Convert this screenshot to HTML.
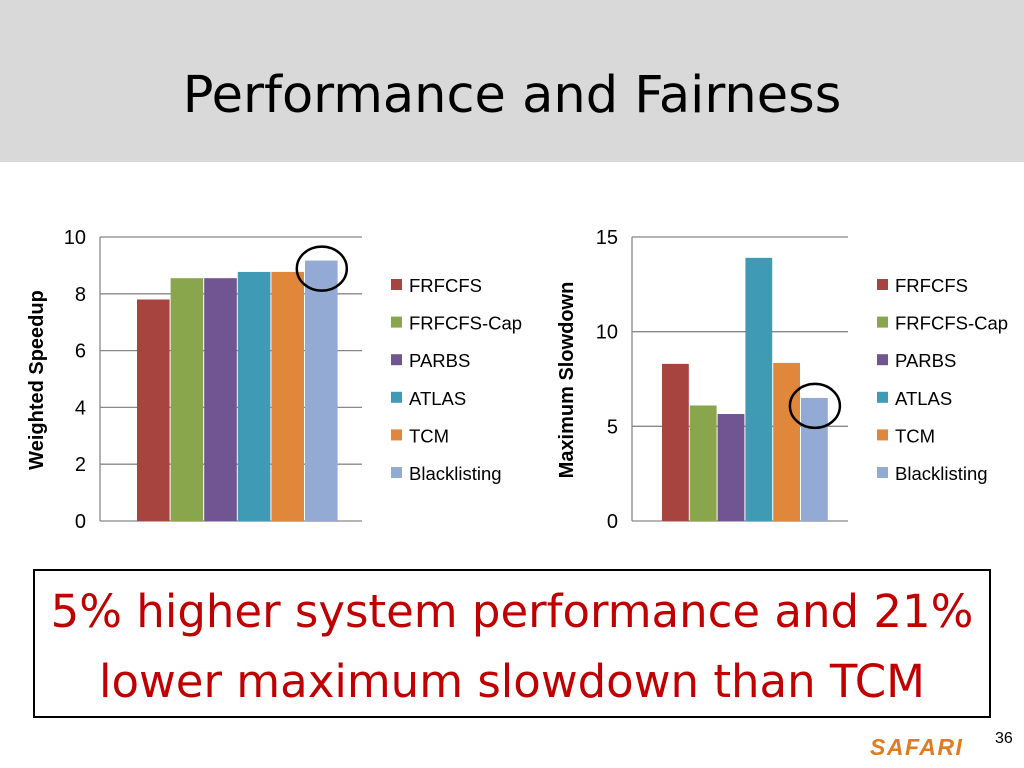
<!DOCTYPE html>
<html><head><meta charset="utf-8"><style>
body{margin:0;width:1024px;height:768px;background:#fff;overflow:hidden;font-family:"Liberation Sans",sans-serif;position:relative}
#hdr{position:absolute;left:0;top:0;width:1024px;height:162px;background:#d9d9d9}
#title{position:absolute;left:0;top:66px;width:1024px;text-align:center;font-size:51px;color:#000;font-family:"DejaVu Sans","Liberation Sans",sans-serif;letter-spacing:0px}
#box{position:absolute;left:33px;top:569px;width:958px;height:149px;border:2px solid #000;color:#c00000;font-size:45px;text-align:center;line-height:70px;padding-top:6px;box-sizing:border-box;font-family:"DejaVu Sans","Liberation Sans",sans-serif}
#safari{position:absolute;left:870px;top:734px;font-size:23px;font-weight:bold;font-style:italic;color:#e07b20;letter-spacing:1.5px}
#pg{position:absolute;left:995px;top:730px;font-size:16px}
</style></head><body>
<div id="hdr"></div>
<div id="title">Performance and Fairness</div>
<svg id="chart" width="1024" height="768" style="position:absolute;left:0;top:0"></svg>
<div id="box">5% higher system performance and 21%<br>lower maximum slowdown than TCM</div>
<div id="safari">SAFARI</div>
<div id="pg">36</div>
<script>
const categories=["FRFCFS","FRFCFS-Cap","PARBS","ATLAS","TCM","Blacklisting"];
const speedupValues=[7.8,8.55,8.55,8.77,8.77,9.17];
const slowdownValues=[8.3,6.1,5.65,13.9,8.35,6.5];
const speedupTicks=[0,2,4,6,8,10];
const slowdownTicks=[0,5,10,15];
const colors=["#a8443f","#89a64c","#715593","#3f9bb3","#e0873c","#93abd4"];
const NS="http://www.w3.org/2000/svg";
const svg=document.getElementById('chart');
function mk(t,a,txt){const e=document.createElementNS(NS,t);for(const k in a)e.setAttribute(k,a[k]);if(txt!==undefined)e.textContent=txt;svg.appendChild(e);return e;}
function chart(o){
  const y=v=>o.y0-(v/o.max)*(o.y0-o.y1);
  o.ticks.forEach(t=>{
    const l=mk('line',{x1:o.ax,x2:o.ax2,y1:y(t),y2:y(t),stroke:'#888','stroke-width':1.3});
    
    const tx=mk('text',{x:o.ax-14,y:y(t)+7,'text-anchor':'end','font-size':20,'font-family':'Liberation Sans, sans-serif'},t);
    
  });
  o.vals.forEach((v,i)=>{
    const r=mk('rect',{x:o.bx+i*o.bw,y:y(v),width:o.bw-1,height:o.y0-y(v),fill:colors[i]});
    
    const lg=mk('rect',{x:o.lx,y:o.ly+i*37.6-6,width:11,height:11,fill:colors[i]});
    
    const lt=mk('text',{x:o.lx+18,y:o.ly+i*37.6+7,'font-size':18.5,'font-family':'Liberation Sans, sans-serif'},categories[i]);
    
  });
  const ax=mk('line',{x1:o.ax,x2:o.ax,y1:o.y1,y2:o.y0,stroke:'#888','stroke-width':1.3});
  
  const t=mk('text',{x:0,y:0,transform:`translate(${o.tx},380) rotate(-90)`,'text-anchor':'middle','font-size':20,'font-weight':'bold','font-family':'Liberation Sans, sans-serif'},o.title);
  
  const hi=o.circ;
  const c=mk('ellipse',{cx:o.bx+hi*o.bw+o.bw/2,cy:y(o.vals[hi])+8,rx:25,ry:22,fill:'none',stroke:'#000','stroke-width':2.5});
  
}
chart({vals:speedupValues,ticks:speedupTicks,max:10,y0:521,y1:237,ax:100,ax2:362,bx:137,bw:33.6,lx:391,ly:285,tx:43,title:'Weighted Speedup',circ:5});
chart({vals:slowdownValues,ticks:slowdownTicks,max:15,y0:521,y1:237,ax:632,ax2:848,bx:662,bw:27.8,lx:877,ly:285,tx:573,title:'Maximum Slowdown',circ:5});
</script>
</body></html>
